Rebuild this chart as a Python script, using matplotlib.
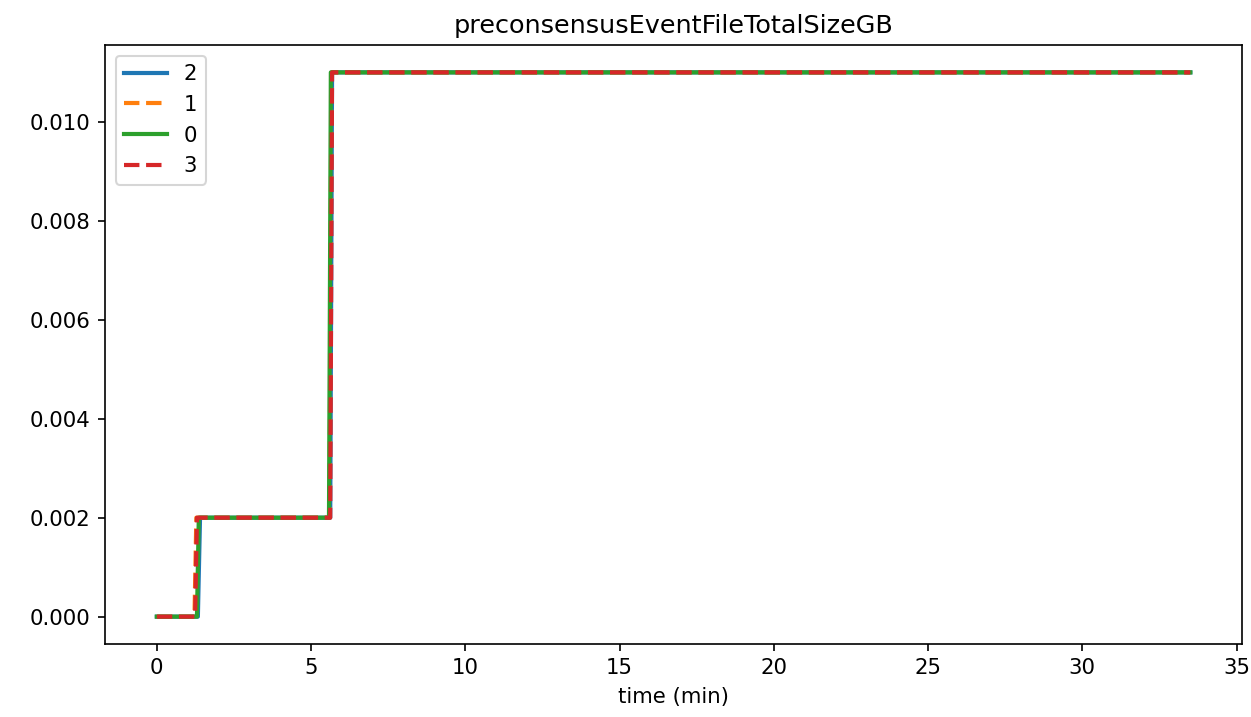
import matplotlib
matplotlib.use('Agg')
import matplotlib.pyplot as plt

# ── DATA ─────────────────────────────────────────────────────
# sampled points (time in minutes, size in GB) per node
node_ids = ['2', '1', '0', '3']

time_2 = [0.0, 1.33, 1.40, 5.62, 5.68, 33.5]
size_2 = [0.0, 0.0, 0.002, 0.002, 0.011, 0.011]

time_1 = [0.0, 1.22, 1.28, 5.60, 5.66, 33.5]
size_1 = [0.0, 0.0, 0.002, 0.002, 0.011, 0.011]

time_0 = [0.0, 1.30, 1.36, 5.58, 5.64, 33.5]
size_0 = [0.0, 0.0, 0.002, 0.002, 0.011, 0.011]

time_3 = [0.0, 1.24, 1.30, 5.62, 5.68, 33.5]
size_3 = [0.0, 0.0, 0.002, 0.002, 0.011, 0.011]

times = [time_2, time_1, time_0, time_3]
sizes = [size_2, size_1, size_0, size_3]
styles = ['-', '--', '-', '--']
colors = ['C0', 'C1', 'C2', 'C3']

# ── PLOT ─────────────────────────────────────────────────────
plt.rcParams['font.size'] = 10.2
fig, ax = plt.subplots(figsize=(1252 / 150, 717 / 150), dpi=150)

for t, s, ls, c, lab in zip(times, sizes, styles, colors, node_ids):
    ax.plot(t, s, linestyle=ls, color=c, label=lab, linewidth=2)

ax.set_title('preconsensusEventFileTotalSizeGB')
ax.set_xlabel('time (min)')
ax.legend(loc='upper left')

plt.subplots_adjust(left=0.084, right=0.992, top=0.937, bottom=0.102)
plt.savefig('out.png', dpi=150)
